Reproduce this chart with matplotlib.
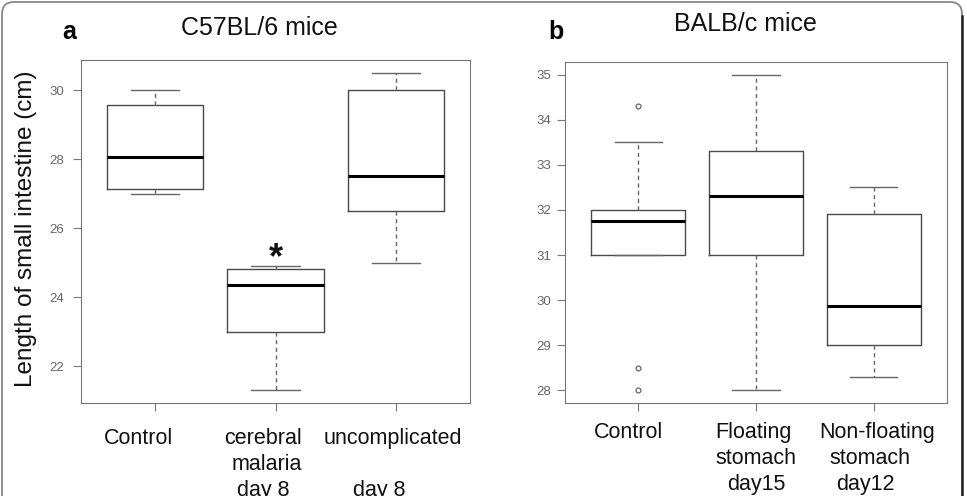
import matplotlib
matplotlib.use('Agg')
import matplotlib.pyplot as plt
from matplotlib.patches import FancyBboxPatch

plt.rcParams['font.family'] = ['Liberation Sans', 'DejaVu Sans']

# panel a - C57BL/6 mice
a_whislo = [27.0, 21.3, 25.0]
a_q1 = [27.12, 23.0, 26.5]
a_med = [28.05, 24.35, 27.5]
a_q3 = [29.58, 24.8, 30.0]
a_whishi = [30.0, 24.9, 30.5]
a_fliers = [[], [], []]
a_yticks = [22, 24, 26, 28, 30]
# (text, x, line)
a_labels = [('Control', 0.86, 0), ('cerebral', 1.9, 0), ('malaria', 1.93, 1),
            ('day 8', 1.9, 2), ('uncomplicated', 2.98, 0), ('day 8', 2.86, 2)]

# panel b - BALB/c mice
b_whislo = [31.0, 28.0, 28.3]
b_q1 = [31.0, 31.0, 29.0]
b_med = [31.75, 32.3, 29.87]
b_q3 = [32.0, 33.3, 31.92]
b_whishi = [33.5, 35.0, 32.5]
b_fliers = [[34.3, 28.5, 28.0], [], []]
b_yticks = [28, 29, 30, 31, 32, 33, 34, 35]
b_labels = [('Control', 0.92, 0), ('Floating', 1.975, 0), ('stomach', 2.0, 1),
            ('day15', 2.0, 2), ('Non-floating', 3.03, 0), ('stomach', 2.97, 1),
            ('day12', 2.93, 2)]


def stats(whislo, q1, med, q3, whishi, fliers):
    return [dict(whislo=w0, q1=a, med=m, q3=b, whishi=w1, fliers=f)
            for w0, a, m, b, w1, f in zip(whislo, q1, med, q3, whishi, fliers)]


def draw(ax, st, yticks, ylim, labels, lab_off, ypad):
    ax.bxp(st, positions=[1, 2, 3], widths=0.8, capwidths=0.4,
           boxprops=dict(color='#4a4a4a', lw=1),
           whiskerprops=dict(color='#666', lw=1, linestyle=(0, (3, 2.5))),
           capprops=dict(color='#666', lw=1),
           medianprops=dict(color='black', lw=2.2),
           flierprops=dict(marker='o', markersize=3.5, markerfacecolor='none',
                           markeredgecolor='#666', markeredgewidth=0.9),
           manage_ticks=False)
    ax.set_xlim(0.38, 3.62)
    ax.set_ylim(*ylim)
    ax.set_yticks(yticks)
    ax.set_xticks([1, 2, 3])
    ax.set_xticklabels([])
    for s in ax.spines.values():
        s.set_color('#777')
    ax.tick_params(axis='y', length=6, color='#777', labelcolor='#666',
                   labelsize=9.5, pad=ypad)
    ax.tick_params(axis='x', length=6, color='#777')
    for txt, x, line in labels:
        ax.annotate(txt, xy=(x, 0), xycoords=('data', 'axes fraction'),
                    xytext=(0, -(lab_off + line * 26)), textcoords='offset pixels',
                    ha='center', va='baseline', fontsize=15.5, color='#111')


fig = plt.figure(figsize=(9.67, 4.96), dpi=100)

ax1 = fig.add_axes([81 / 967, 1 - 403 / 496, 389 / 967, 343 / 496])
draw(ax1, stats(a_whislo, a_q1, a_med, a_q3, a_whishi, a_fliers),
     a_yticks, (20.93, 30.87), a_labels, 41, 6)
ax1.text(2, 24.85, '*', ha='center', va='baseline', fontsize=26,
         fontweight='bold', color='#111')

ax2 = fig.add_axes([565 / 967, 1 - 403 / 496, 382 / 967, 341 / 496])
draw(ax2, stats(b_whislo, b_q1, b_med, b_q3, b_whishi, b_fliers),
     b_yticks, (27.72, 35.28), b_labels, 35, 4)

fig.text(62 / 967, 1 - 39 / 496, 'a', fontsize=18, fontweight='bold', va='baseline')
fig.text(259 / 967, 1 - 35 / 496, 'C57BL/6 mice', fontsize=18, ha='center', va='baseline', color='#111')
fig.text(548 / 967, 1 - 39 / 496, 'b', fontsize=18, fontweight='bold', va='baseline')
fig.text(745 / 967, 1 - 31 / 496, 'BALB/c mice', fontsize=18, ha='center', va='baseline', color='#111')
fig.text(26 / 967, 1 - 229 / 496, 'Length of small intestine (cm)', fontsize=17.5,
         rotation=90, ha='center', va='center', color='#111')

# rounded frame around the figure
frame = FancyBboxPatch((0.02, -0.5), 9.6, 5.44, boxstyle='round,pad=0,rounding_size=0.12',
                       transform=fig.dpi_scale_trans, fill=False, edgecolor='#888', lw=1.3)
fig.add_artist(frame)
fig.add_artist(plt.Line2D([9.62, 9.62], [-0.5, 4.8], transform=fig.dpi_scale_trans,
                          color='#222', lw=1.8))

fig.savefig('out.png', dpi=100)
